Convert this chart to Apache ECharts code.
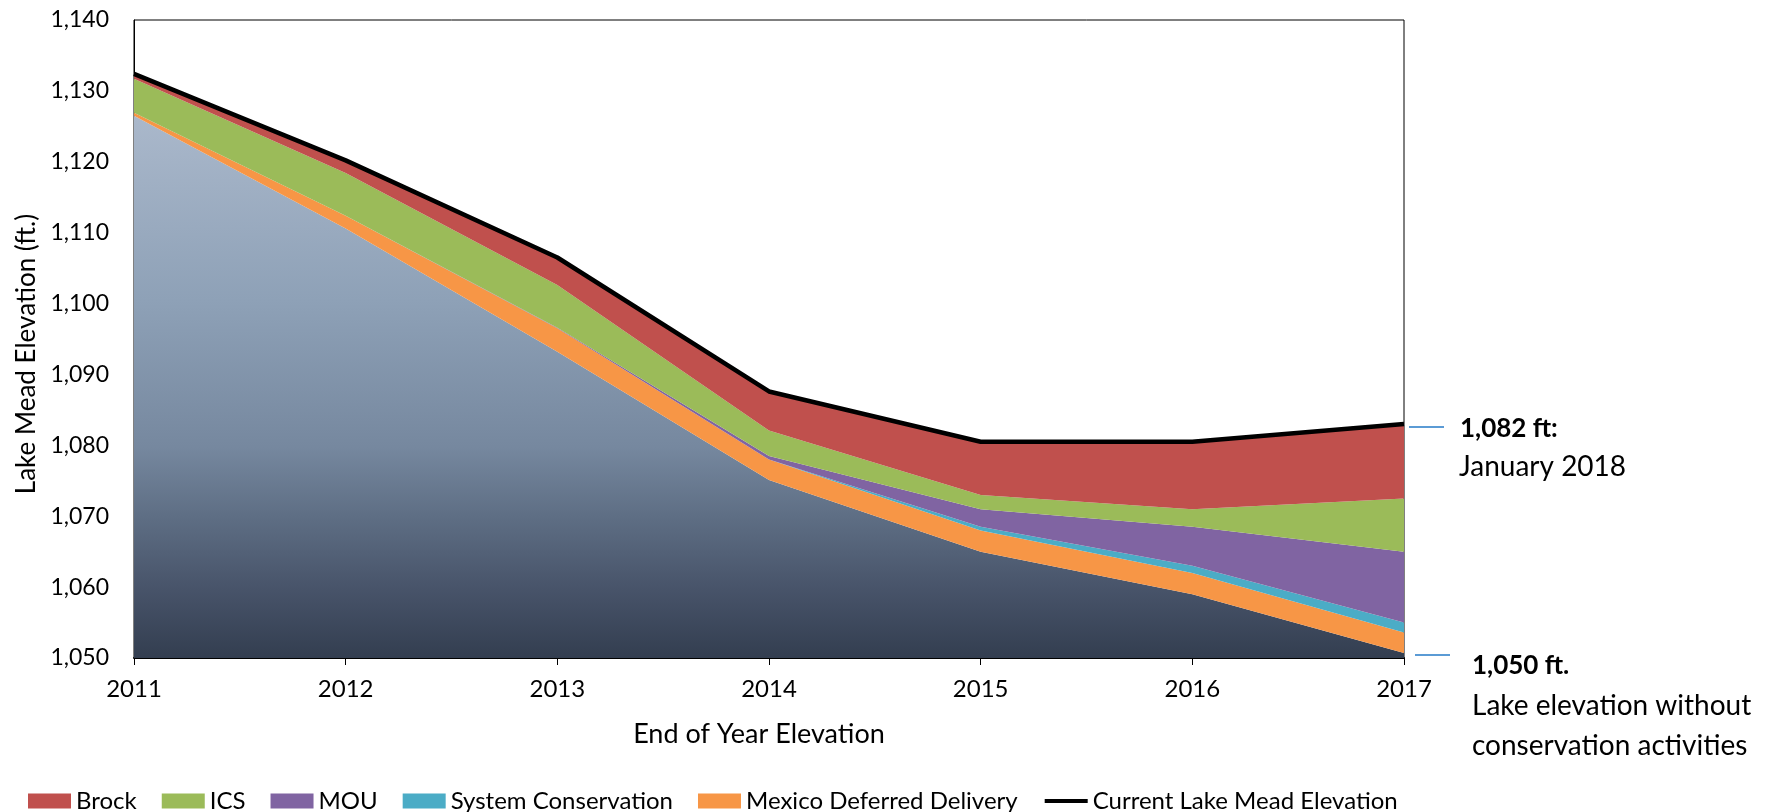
<!DOCTYPE html>
<html><head><meta charset="utf-8">
<script src="https://cdn.jsdelivr.net/npm/echarts@6/dist/echarts.min.js"></script>
<style>html,body{margin:0;padding:0;background:#fff}#c{width:1781px;height:812px}</style>
</head><body><div id="c"></div>
<script>
// ---- data ----
const years = ['2011', '2012', '2013', '2014', '2015', '2016', '2017'];
const withoutConservation = [1126.5, 1110.6, 1093.2, 1075.1, 1065.0, 1059.0, 1050.7];
const mexicoDeferred      = [0.4, 1.8, 3.3, 2.9, 3.0, 3.0, 2.9];
const systemConservation  = [0, 0, 0, 0, 0.5, 1.0, 1.4];
const mou                 = [0, 0, 0.1, 0.5, 2.5, 5.5, 10.0];
const ics                 = [4.8, 6.0, 6.0, 3.6, 2.0, 2.5, 7.5];
const brock               = [0.7, 1.8, 3.9, 5.5, 7.5, 9.5, 10.5];
const currentElevation    = [1132.4, 1120.2, 1106.5, 1087.6, 1080.5, 1080.5, 1083.0];
const yTicks = { min: 1050, max: 1140, step: 10 };

const FONT = 'Lato';
const chart = echarts.init(document.getElementById('c'), null, { renderer: 'canvas' });

function areaSeries(name, data, color) {
  return {
    name, type: 'line', stack: 'total', data, symbol: 'none', showSymbol: false,
    lineStyle: { width: 0 }, itemStyle: { color }, areaStyle: { color, opacity: 1 },
    emphasis: { disabled: true }, silent: true, z: 2
  };
}

const option = {
  animation: false,
  backgroundColor: '#fff',
  grid: { left: 134, right: 377, top: 20, bottom: 154, show: true, borderColor: '#000', borderWidth: 1 },
  xAxis: {
    type: 'category', data: years, boundaryGap: false,
    axisLine: { lineStyle: { color: '#000', width: 2 } },
    axisTick: { show: true, length: 7, lineStyle: { color: '#000', width: 1 } },
    axisLabel: { color: '#000', fontFamily: FONT, fontSize: 24, margin: 19 },
    splitLine: { show: false },
    name: 'End of Year Elevation', nameLocation: 'middle', nameGap: 63,
    nameTextStyle: { color: '#000', fontFamily: FONT, fontSize: 27, padding: [0, 20, 0, 0] }
  },
  yAxis: {
    type: 'value', min: yTicks.min, max: yTicks.max, interval: yTicks.step,
    splitLine: { show: false },
    axisLine: { show: true, lineStyle: { color: '#000', width: 1 } },
    axisTick: { show: false },
    axisLabel: { color: '#000', fontFamily: FONT, fontSize: 23, margin: 25,
      formatter: v => v.toLocaleString('en-US') },
    name: 'Lake Mead Elevation (ft.)', nameLocation: 'middle', nameGap: 94, nameRotate: 90,
    nameTextStyle: { color: '#000', fontFamily: FONT, fontSize: 26, padding: [0, 30, 0, 0] }
  },
  legend: {
    left: 23, top: 784, orient: 'horizontal',
    itemWidth: 43, itemHeight: 15, itemGap: 25,
    textStyle: { color: '#000', fontFamily: FONT, fontSize: 24 },
    data: [
      { name: 'Brock', icon: 'rect' },
      { name: 'ICS', icon: 'rect' },
      { name: 'MOU', icon: 'rect' },
      { name: 'System Conservation', icon: 'rect' },
      { name: 'Mexico Deferred Delivery', icon: 'rect' },
      { name: 'Current Lake Mead Elevation',
        itemStyle: { color: 'rgba(0,0,0,0)', borderWidth: 0 },
        lineStyle: { width: 4, color: '#000' } }
    ]
  },
  series: [
    {
      name: 'Lake elevation without conservation', type: 'line', stack: 'total',
      data: withoutConservation, symbol: 'none', lineStyle: { width: 0 },
      silent: true, z: 1,
      areaStyle: {
        origin: 'start', opacity: 1,
        color: new echarts.graphic.LinearGradient(0, 0, 0, 1, [
          { offset: 0, color: '#AAB8CB' },
          { offset: 0.34, color: '#8EA1B7' },
          { offset: 0.61, color: '#76889F' },
          { offset: 0.74, color: '#5E6E84' },
          { offset: 0.87, color: '#48546A' },
          { offset: 1, color: '#333E50' }
        ])
      }
    },
    areaSeries('Mexico Deferred Delivery', mexicoDeferred, '#F79646'),
    areaSeries('System Conservation', systemConservation, '#4BACC6'),
    areaSeries('MOU', mou, '#8064A2'),
    areaSeries('ICS', ics, '#9BBB59'),
    areaSeries('Brock', brock, '#C0504D'),
    {
      name: 'Current Lake Mead Elevation', type: 'line', data: currentElevation,
      symbol: 'none', lineStyle: { color: '#000', width: 4.5 }, itemStyle: { color: '#000' },
      silent: true, z: 5
    }
  ]
};
chart.setOption(option);

// annotations at the right of the plot, tied to the 2017 values
const last = years.length - 1;
const pTop = chart.convertToPixel({ gridIndex: 0 }, [years[last], currentElevation[last]]);
const pBase = chart.convertToPixel({ gridIndex: 0 }, [years[last], withoutConservation[last]]);
const x0 = pTop[0];
const txt = (text, left, cy, bold) => ({
  type: 'text', left, top: cy - 15,
  style: { text, fill: '#000', font: (bold ? 'bold 26px ' : '28px ') + FONT }
});
chart.setOption({
  graphic: [
    { type: 'line', shape: { x1: x0 + 5, y1: pTop[1] + 3, x2: x0 + 40, y2: pTop[1] + 3 },
      style: { stroke: '#5B9BD5', lineWidth: 2 } },
    { type: 'line', shape: { x1: x0 + 11, y1: pBase[1] + 2, x2: x0 + 46, y2: pBase[1] + 2 },
      style: { stroke: '#5B9BD5', lineWidth: 2 } },
    txt('1,082 ft:', x0 + 56, pTop[1] + 7, true),
    txt('January 2018', x0 + 55, pTop[1] + 44, false),
    txt('1,050 ft.', x0 + 68, pBase[1] + 15, true),
    txt('Lake elevation without', x0 + 68, pBase[1] + 54, false),
    txt('conservation activities', x0 + 68, pBase[1] + 94, false)
  ]
});
</script>
</body></html>
